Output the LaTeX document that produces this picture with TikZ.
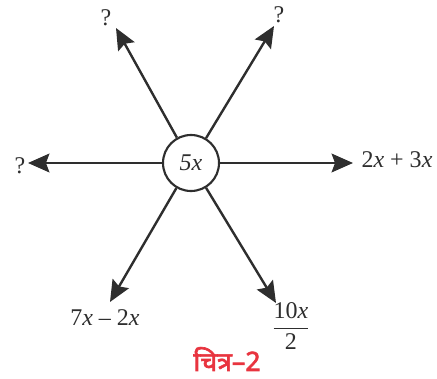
\documentclass[tikz,border=0pt]{standalone}
\usepackage{fontspec}
\setmainfont{Liberation Serif}
\newfontfamily\devfont[Script=Devanagari,FakeBold=2.5]{Noto Sans}
\usetikzlibrary{arrows.meta}
\definecolor{ink}{HTML}{2E2E2E}
\definecolor{capred}{HTML}{E8343F}
\tikzset{
  arr/.style={draw=ink, line width=1.8pt, -{Stealth[length=16pt,width=14pt,inset=2.5pt]}},
  lab/.style={text=ink, font=\fontsize{18}{21}\selectfont, inner sep=0pt},
  hub/.style={circle, draw=ink, line width=1.6pt, minimum size=42pt, inner sep=0pt, fill=white, text=ink, font=\fontsize{18}{21}\selectfont}
}
\newcommand{\vx}{\textit{x}}
\begin{document}
\begin{tikzpicture}[x=0.75pt,y=-0.75pt]
\useasboundingbox (0,0) rectangle (437,379);
\node[hub] (c) at (191,163) {\textit{5x}};
\coordinate (ttl) at (116,28);
\coordinate (ttr) at (274,26);
\coordinate (tl) at (28,163);
\coordinate (tr) at (353,163);
\coordinate (tbl) at (110,302);
\coordinate (tbr) at (276,303);
\draw[arr] (c) -- (ttl);
\draw[arr] (c) -- (ttr);
\draw[arr] (c) -- (tl);
\draw[arr] (c) -- (tr);
\draw[arr] (c) -- (tbl);
\draw[arr] (c) -- (tbr);
\node[lab] (qtl) at (106,18) {?};
\node[lab] (qtr) at (279,15) {?};
\node[lab] (ql) at (20,166) {?};
\node[lab] (lr) at (397,160) {2\vx\ + 3\vx};
\node[lab] (lbl) at (105,318) {7\vx\ -- 2\vx};
\node[lab] (lbr) at (291,326) {$\displaystyle\frac{\mbox{10\vx}}{\mbox{2}}$};
\node[inner sep=0pt, text=capred, font=\devfont\fontsize{20}{24}\selectfont] (cap) at (227,359) {चित्र–2};
\end{tikzpicture}
\end{document}
